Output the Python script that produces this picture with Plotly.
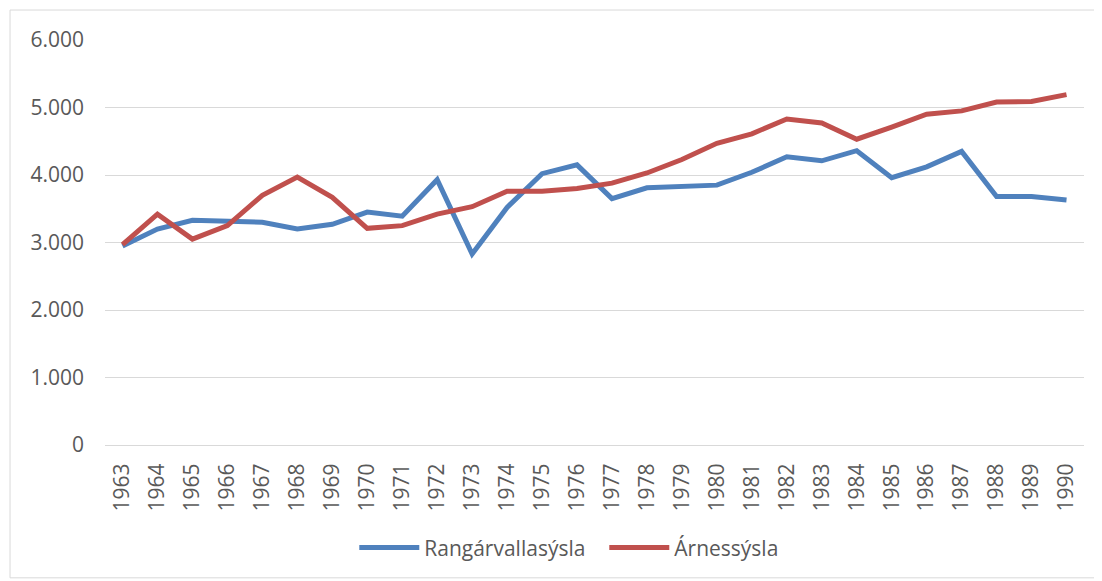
import plotly.graph_objects as go

years = [str(y) for y in range(1963, 1991)]
rangarvalla = [2950, 3200, 3330, 3310, 3300, 3200, 3270, 3450, 3390, 3930, 2830, 3520,
               4020, 4150, 3650, 3810, 3830, 3850, 4040, 4270, 4210, 4360, 3960, 4120,
               4350, 3680, 3680, 3630]
arnes = [2970, 3420, 3050, 3250, 3700, 3970, 3670, 3210, 3250, 3420, 3530, 3760,
         3760, 3800, 3880, 4030, 4230, 4470, 4610, 4830, 4770, 4530, 4710, 4900,
         4950, 5080, 5090, 5190]

FAM = "Open Sans, Noto Sans, sans-serif"
FS = 21
font = dict(family=FAM, size=FS, color="#595959")

fig = go.Figure()
fig.add_trace(go.Scatter(x=years, y=rangarvalla, mode="lines", name="Rangárvallasýsla",
                         line=dict(color="#4F81BD", width=5)))
fig.add_trace(go.Scatter(x=years, y=arnes, mode="lines", name="Árnessýsla",
                         line=dict(color="#C0504D", width=5)))

fig.update_layout(
    width=1094, height=573,
    margin=dict(l=97, r=18, t=32, b=136, autoexpand=False),
    plot_bgcolor="white", paper_bgcolor="white",
    separators=",.",
    font=font,
    showlegend=True,
    legend=dict(orientation="h", x=0.51, xanchor="center", y=-0.254, yanchor="middle",
                font=dict(family=FAM, size=FS, color="#595959"), itemwidth=60,
                entrywidth=175),
    xaxis=dict(type="category", range=[-0.5, 27.5], tickangle=-90, showgrid=False,
               showline=True, linecolor="#d9d9d9", linewidth=1, ticks="", ticklen=0,
               automargin=False, ticklabelstandoff=9,
               tickfont=dict(family=FAM, size=FS, color="#595959")),
    yaxis=dict(range=[0, 6000], tickvals=[0, 1000, 2000, 3000, 4000, 5000, 6000],
               tickformat=",d", showgrid=True, gridcolor="#d9d9d9", gridwidth=1,
               zeroline=False, showline=False, ticks="", ticklabelstandoff=20,
               automargin=False,
               tickfont=dict(family=FAM, size=FS, color="#595959")),
    shapes=[dict(type="rect", xref="paper", yref="paper",
                 x0=-0.097, x1=1.015, y0=-0.328, y1=1.074,
                 line=dict(color="#d9d9d9", width=1), fillcolor="rgba(0,0,0,0)", layer="below")],
)

fig.write_html("out.html")
